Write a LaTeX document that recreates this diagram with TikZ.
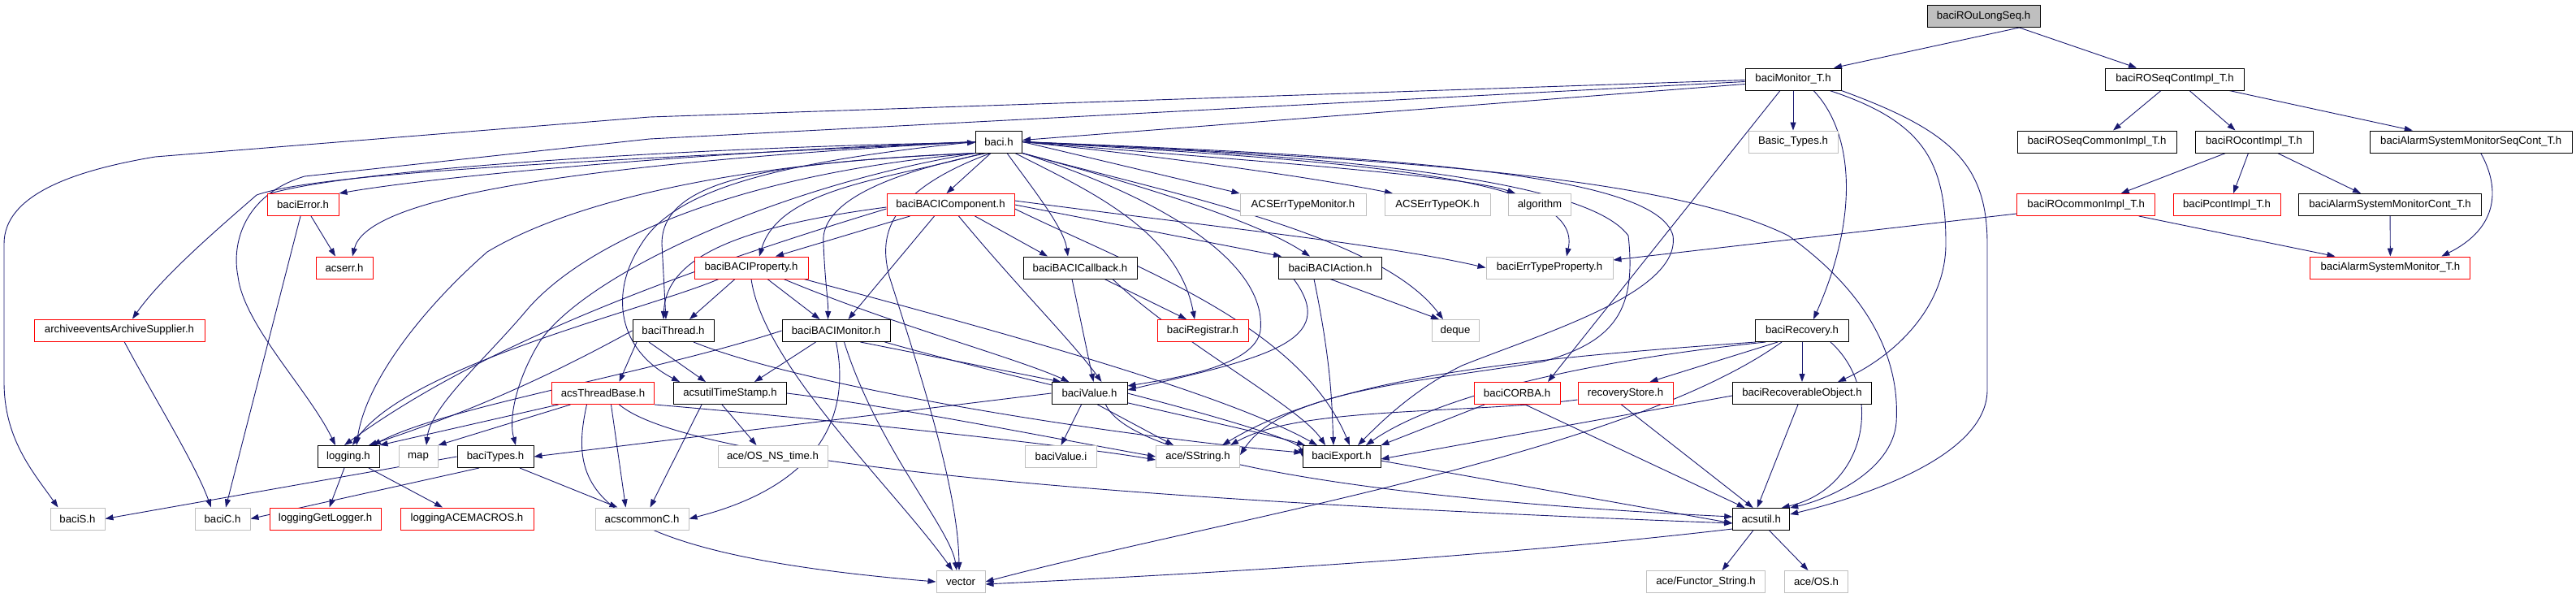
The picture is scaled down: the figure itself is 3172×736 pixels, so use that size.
\documentclass[tikz,border=0pt]{standalone}
\usepackage{fontspec}
\setmainfont{Liberation Sans}
\usetikzlibrary{arrows.meta}
\definecolor{edgec}{HTML}{191970}
\definecolor{extc}{HTML}{BFBFBF}
\pgfdeclarelayer{edgelayer}
\pgfsetlayers{edgelayer,main}
\tikzset{
  box/.style={rectangle, minimum height=27pt, inner sep=0pt, line width=1pt, fill=white, font=\fontsize{13.2}{15}\selectfont, text=black},
  doc/.style={box, draw=black},
  trunc/.style={box, draw=red},
  ext/.style={box, draw=extc},
  rootbox/.style={box, draw=black, fill=extc},
  dep/.style={draw=edgec, line width=0.9pt, -{Triangle[length=10pt,width=7pt]}},
}
\begin{document}
\begin{tikzpicture}[x=1pt,y=-1pt]
\useasboundingbox (0,0) rectangle (3172,736);
% nodes
\node[rootbox, minimum width=139] (root) at (2442.5,20) {baciROuLongSeq.h};
\node[doc, minimum width=118] (mon) at (2208,97.5) {baciMonitor\_T.h};
\node[doc, minimum width=171] (seqc) at (2678,97.5) {baciROSeqContImpl\_T.h};
\node[doc, minimum width=57] (baci) at (1230,174.5) {baci.h};
\node[ext, minimum width=110] (btypes) at (2208,174.5) {Basic\_Types.h};
\node[doc, minimum width=196] (seqcom) at (2582,174.5) {baciROSeqCommonImpl\_T.h};
\node[doc, minimum width=145] (rocont) at (2775.5,174.5) {baciROcontImpl\_T.h};
\node[doc, minimum width=249] (asmsc) at (3042.7,174.5) {baciAlarmSystemMonitorSeqCont\_T.h};
\node[trunc, minimum width=88] (err) at (373,252) {baciError.h};
\node[trunc, minimum width=157] (comp) at (1170.5,252) {baciBACIComponent.h};
\node[ext, minimum width=155] (aetm) at (1604.5,252) {ACSErrTypeMonitor.h};
\node[ext, minimum width=130] (aeok) at (1770,252) {ACSErrTypeOK.h};
\node[ext, minimum width=77] (algo) at (1896,252) {algorithm};
\node[trunc, minimum width=170] (rocom) at (2568.7,252) {baciROcommonImpl\_T.h};
\node[trunc, minimum width=132] (pcont) at (2742,252) {baciPcontImpl\_T.h};
\node[doc, minimum width=225] (asmc) at (2943,252) {baciAlarmSystemMonitorCont\_T.h};
\node[trunc, minimum width=70] (acserr) at (424,329.5) {acserr.h};
\node[trunc, minimum width=140] (prop) at (925,329.5) {baciBACIProperty.h};
\node[doc, minimum width=140] (cb) at (1330,329.5) {baciBACICallback.h};
\node[doc, minimum width=127] (act) at (1638,329.5) {baciBACIAction.h};
\node[ext, minimum width=156] (etp) at (1908,329.5) {baciErrTypeProperty.h};
\node[trunc, minimum width=197] (asm) at (2943.4,329.5) {baciAlarmSystemMonitor\_T.h};
\node[trunc, minimum width=210] (arch) at (147,406.5) {archiveeventsArchiveSupplier.h};
\node[doc, minimum width=100] (thr) at (829,407) {baciThread.h};
\node[doc, minimum width=133] (bmon) at (1029.5,407) {baciBACIMonitor.h};
\node[trunc, minimum width=112] (reg) at (1481,407) {baciRegistrar.h};
\node[ext, minimum width=58] (deque) at (1792,407) {deque};
\node[doc, minimum width=115] (rec) at (2219,407) {baciRecovery.h};
\node[trunc, minimum width=126] (atb) at (742.5,484) {acsThreadBase.h};
\node[doc, minimum width=139] (ts) at (899,484) {acsutilTimeStamp.h};
\node[doc, minimum width=93] (val) at (1341.5,484) {baciValue.h};
\node[trunc, minimum width=106] (corba) at (1868,484) {baciCORBA.h};
\node[trunc, minimum width=117] (rstore) at (2001.5,484) {recoveryStore.h};
\node[doc, minimum width=171] (robj) at (2219,484) {baciRecoverableObject.h};
\node[doc, minimum width=76] (log) at (429,562) {logging.h};
\node[ext, minimum width=48] (map) at (515,562) {map};
\node[doc, minimum width=94] (types) at (610,562) {baciTypes.h};
\node[ext, minimum width=135] (osns) at (951.5,562) {ace/OS\_NS\_time.h};
\node[ext, minimum width=88] (vali) at (1306.5,562) {baciValue.i};
\node[ext, minimum width=103] (sstr) at (1475,562) {ace/SString.h};
\node[doc, minimum width=96] (exp) at (1652,562) {baciExport.h};
\node[ext, minimum width=67] (bS) at (95.5,638.5) {baciS.h};
\node[ext, minimum width=68] (bC) at (274,638.5) {baciC.h};
\node[trunc, minimum width=137] (lgl) at (400.5,638.5) {loggingGetLogger.h};
\node[trunc, minimum width=164] (lam) at (575,638.5) {loggingACEMACROS.h};
\node[ext, minimum width=115] (acsc) at (790.5,638.5) {acscommonC.h};
\node[doc, minimum width=70] (util) at (2168.7,639) {acsutil.h};
\node[ext, minimum width=60] (vec) at (1183,716) {vector};
\node[ext, minimum width=146] (fstr) at (2100.5,716) {ace/Functor\_String.h};
\node[ext, minimum width=78] (os) at (2236.5,716) {ace/OS.h};
\begin{pgfonlayer}{edgelayer}
% right cluster
\draw[dep] ([xshift=44]root.south) -- ([xshift=50]mon.north);
\draw[dep] ([xshift=44]root.south) -- ([xshift=-47]seqc.north);
\draw[dep] ([xshift=-17]seqc.south) -- ([xshift=20]seqcom.north);
\draw[dep] ([xshift=18]seqc.south) -- ([xshift=-23]rocont.north);
\draw[dep] ([xshift=67]seqc.south) -- ([xshift=-72]asmsc.north);
\draw[dep] ([xshift=-35]rocont.south) -- ([xshift=43]rocom.north);
\draw[dep] ([xshift=-7]rocont.south) -- ([xshift=8]pcont.north);
\draw[dep] ([xshift=29]rocont.south) -- ([xshift=-36]asmc.north);
\draw[dep] ([xshift=65]rocom.south) -- ([xshift=-68]asm.north);
\draw[dep] ([yshift=-11]rocom.west) -- ([yshift=9.5]etp.east);
\draw[dep] (asmc) -- (asm);
\draw[dep] ([xshift=12]asmsc.south) .. controls (3078,230) and (3078,280) .. ([xshift=63]asm.north);
% baciMonitor_T.h
\draw[dep] (mon) -- (btypes);
\draw[dep] ([yshift=-1]mon.west) -- (800,144) -- (191,193) .. controls (90,210) and (5,240) .. (5,300) -- (5,470) .. controls (5,540) and (40,580) .. ([xshift=-24]bS.north);
\draw[dep] ([yshift=-3]mon.west) -- (800,171) -- (375,217) .. controls (300,240) and (285,300) .. (293,340) .. controls (300,400) and (380,480) .. ([xshift=-16]log.north);
\draw[dep] ([yshift=-6]mon.west) -- (1600,146) -- ([yshift=2]baci.east);
\draw[dep] ([xshift=25]mon.south) .. controls (2280,160) and (2292,260) .. ([xshift=14]rec.north);
\draw[dep] ([xshift=45]mon.south) .. controls (2370,150) and (2396,200) .. (2396,300) .. controls (2396,380) and (2330,440) .. ([xshift=44]robj.north);
\draw[dep] (mon.south east) .. controls (2400,160) and (2447,200) .. (2447,300) -- (2447,480) .. controls (2447,560) and (2300,610) .. ([yshift=6]util.east);
\draw[dep] ([xshift=-16]mon.south) -- ([xshift=38]corba.north);
% baci.h
\draw[dep] ([xshift=-10]baci.south) -- ([xshift=-5]comp.north);
\draw[dep] (baci.west) .. controls (900,185) and (550,215) .. (err.north east);
\draw[dep] ([xshift=-40]err.north) .. controls (450,205) and (900,180) .. ([yshift=-1]baci.west);
\draw[dep] (baci.west) .. controls (650,205) and (450,250) .. ([xshift=10]acserr.north);
\draw[dep] (baci.west) .. controls (800,195) and (400,210) .. (316,240) .. controls (270,280) and (200,340) .. ([xshift=16]arch.north);
\draw[dep] (baci.south west) .. controls (900,200) and (700,250) .. (600,310) .. controls (520,380) and (450,470) .. ([xshift=10]log.north);
\draw[dep] (baci.south west) .. controls (900,215) and (720,300) .. (650,380) .. controls (600,440) and (530,500) .. ([xshift=10]map.north);
\draw[dep] (baci.south west) .. controls (950,230) and (720,340) .. (665,420) .. controls (640,460) and (625,510) .. ([xshift=25]types.north);
\draw[dep] (baci.south west) .. controls (950,200) and (815,220) .. (815,300) -- ([xshift=-9]thr.north);
\draw[dep] (baci.west) .. controls (950,200) and (830,235) .. (790,300) .. controls (750,360) and (760,430) .. ([xshift=-62]ts.north);
\draw[dep] ([xshift=-20]baci.south) .. controls (1100,220) and (960,230) .. ([xshift=10]prop.north);
\draw[dep] ([xshift=-15]baci.south) .. controls (1060,220) and (1010,260) .. (1014,300) .. controls (1016,350) and (1020,370) .. ([xshift=-10]bmon.north);
\draw[dep] ([xshift=-10]baci.south) .. controls (1080,240) and (1085,300) .. (1095,340) .. controls (1130,450) and (1180,600) .. ([xshift=-2]vec.north);
\draw[dep] ([xshift=10]baci.south) .. controls (1270,230) and (1310,280) .. ([xshift=-15]cb.north);
\draw[dep] ([xshift=20]baci.south) .. controls (1330,230) and (1450,280) .. ([xshift=-10]reg.north);
\draw[dep] (baci.south east) .. controls (1450,250) and (1560,330) .. (1552,407) .. controls (1545,450) and (1450,465) .. ([yshift=9]val.east);
\draw[dep] (baci.south east) .. controls (1450,240) and (1560,280) .. ([xshift=-25]act.north);
\draw[dep] (baci.east) -- (aetm.north west);
\draw[dep] (baci.east) .. controls (1500,200) and (1650,225) .. ([xshift=-55]aeok.north);
\draw[dep] (baci.east) .. controls (1500,195) and (1800,215) .. ([xshift=-30]algo.north);
\draw[dep] (baci.east) .. controls (1700,200) and (1950,220) .. ([xshift=21]etp.north);
\draw[dep] (baci.south east) .. controls (1450,240) and (1700,290) .. ([xshift=-15]deque.north);
\draw[dep] (baci.east) .. controls (1600,190) and (1950,215) .. (2005,290) .. controls (2015,380) and (1990,420) .. (1900,445) .. controls (1750,470) and (1580,480) .. ([yshift=2]sstr.east);
\draw[dep] (baci.east) .. controls (1700,192) and (2040,212) .. (2060,290) .. controls (2070,360) and (1900,410) .. (1800,450) .. controls (1740,480) and (1700,520) .. ([xshift=20]exp.north);
\draw[dep] (baci.east) .. controls (1700,195) and (2050,215) .. (2202,290) .. controls (2300,360) and (2340,440) .. (2335,520) .. controls (2330,580) and (2250,615) .. (util.north east);
% baciError, archive
\draw[dep] ([xshift=10]err.south) -- ([xshift=-11]acserr.north);
\draw[dep] ([xshift=-3]err.south) -- ([xshift=4]bC.north);
\draw[dep] ([xshift=6]arch.south) .. controls (190,490) and (240,570) .. ([xshift=-14]bC.north);
% component
\draw[dep] ([yshift=-5]comp.west) .. controls (850,330) and (600,420) .. ([xshift=-5]log.north);
\draw[dep] ([yshift=-3]comp.west) .. controls (900,280) and (820,320) .. ([xshift=-12]thr.north);
\draw[dep] ([xshift=-50]comp.south) -- ([xshift=30]prop.north);
\draw[dep] ([xshift=-20]comp.south) -- ([xshift=15]bmon.north);
\draw[dep] ([xshift=10]comp.south) .. controls (1250,350) and (1320,420) .. ([xshift=15]val.north);
\draw[dep] ([xshift=30]comp.south) -- ([xshift=-40]cb.north);
\draw[dep] (comp.east) -- ([xshift=-60]act.north);
\draw[dep] ([yshift=5]comp.east) .. controls (1500,280) and (1700,300) .. (etp.west);
\draw[dep] ([yshift=-5]comp.east) .. controls (1400,330) and (1600,400) .. ([xshift=10]exp.north);
% property
\draw[dep] ([xshift=-40]prop.south) .. controls (800,380) and (500,450) .. ([xshift=5]log.north);
\draw[dep] ([xshift=-20]prop.south) -- ([xshift=20]thr.north);
\draw[dep] ([xshift=0]prop.south) .. controls (940,450) and (1100,600) .. ([xshift=-10]vec.north);
\draw[dep] ([xshift=20]prop.south) -- ([xshift=-20]bmon.north);
\draw[dep] ([xshift=40]prop.south) .. controls (1100,400) and (1250,440) .. ([xshift=-25]val.north);
\draw[dep] ([xshift=65]prop.south) .. controls (1200,400) and (1500,480) .. ([xshift=-30]exp.north);
% thread
\draw[dep] ([xshift=-30]thr.south) -- ([xshift=-30]ts.north);
\draw[dep] (thr.west) .. controls (700,450) and (600,500) .. ([xshift=25]log.north);
\draw[dep] ([xshift=-45]thr.south) -- ([xshift=20]atb.north);
\draw[dep] ([xshift=25]thr.south) .. controls (1000,480) and (1400,540) .. ([yshift=5]exp.west);
% BACI monitor
\draw[dep] (bmon.west) .. controls (800,460) and (550,500) .. ([xshift=30]log.north);
\draw[dep] ([xshift=-25]bmon.south) -- ([xshift=30]ts.north);
\draw[dep] ([xshift=0]bmon.south) .. controls (1050,520) and (1000,600) .. (acsc.east);
\draw[dep] ([xshift=10]bmon.south) .. controls (1080,550) and (1170,650) .. ([xshift=-5]vec.north);
\draw[dep] ([xshift=30]bmon.south) -- ([xshift=-35]val.north);
\draw[dep] ([xshift=60]bmon.south) .. controls (1300,480) and (1550,530) .. ([xshift=-45]exp.north);
% callback, action, registrar
\draw[dep] ([xshift=-10]cb.south) -- ([xshift=5]val.north);
\draw[dep] ([xshift=30]cb.south) -- ([xshift=-20]reg.north);
\draw[dep] ([xshift=40]cb.south) .. controls (1450,420) and (1600,500) .. ([xshift=-20]exp.north);
\draw[dep] ([xshift=-45]act.south) .. controls (1650,420) and (1560,440) .. ([yshift=4]val.east);
\draw[dep] ([xshift=-20]act.south) .. controls (1640,450) and (1640,500) .. ([xshift=-10]exp.north);
\draw[dep] ([xshift=0]act.south) -- ([xshift=-20]deque.north);
% time stamp, thread base
\draw[dep] ([xshift=-35]ts.south) -- ([xshift=10]acsc.north);
\draw[dep] ([xshift=-10]ts.south) -- ([xshift=-20]osns.north);
\draw[dep] (ts.east) .. controls (1100,500) and (1300,540) .. (sstr.west);
\draw[dep] ([xshift=-55]atb.south) -- (log.north east);
\draw[dep] ([xshift=-40]atb.south) -- (map.north east);
\draw[dep] ([xshift=10]atb.south) -- ([xshift=-20]acsc.north);
\draw[dep] ([xshift=-20]atb.south) .. controls (700,600) and (720,680) .. (vec.west);
\draw[dep] ([xshift=20]atb.south) .. controls (860,580) and (1500,620) .. ([yshift=-5]util.west);
\draw[dep] (atb.south east) .. controls (950,510) and (1300,545) .. ([yshift=-4]sstr.west);
% value
\draw[dep] (val.west) -- (types.east);
\draw[dep] ([xshift=-10]val.south) -- (vali.north);
\draw[dep] ([xshift=10]val.south) -- ([xshift=-30]sstr.north);
\draw[dep] ([xshift=20]val.south) .. controls (1400,580) and (1800,620) .. ([yshift=3]util.west);
\draw[dep] (val.east) .. controls (1450,500) and (1600,540) .. (exp.west);
% types, logging
\draw[dep] (types.west) -- (bS.east);
\draw[dep] ([xshift=-20]types.south) -- (bC.east);
\draw[dep] ([xshift=30]types.south) -- ([xshift=-30]acsc.north);
\draw[dep] ([xshift=-5]log.south) -- ([xshift=5]lgl.north);
\draw[dep] ([xshift=25]log.south) -- ([xshift=-30]lam.north);
% recovery etc
\draw[dep] ([xshift=-57]rec.south) .. controls (1900,440) and (1650,460) .. ([xshift=30]sstr.north);
\draw[dep] ([xshift=-45]rec.south) .. controls (1900,450) and (1750,500) .. ([xshift=30]exp.north);
\draw[dep] ([xshift=-25]rec.south) .. controls (2000,560) and (1500,640) .. (vec.east);
\draw[dep] ([xshift=-30]rec.south) -- ([xshift=30]rstore.north);
\draw[dep] (rec) -- (robj);
\draw[dep] ([xshift=35]rec.south) .. controls (2320,480) and (2300,600) .. ([xshift=25]util.north);
\draw[dep] ([xshift=-40]corba.south) -- (exp.north east);
\draw[dep] ([xshift=10]corba.south) -- ([xshift=-20]util.north);
\draw[dep] ([yshift=-8]rstore.west) .. controls (1800,510) and (1600,500) .. ([xshift=40]sstr.north);
\draw[dep] ([xshift=-5]rstore.south) -- ([xshift=-10]util.north);
\draw[dep] ([yshift=-3]robj.west) -- ([yshift=-3]exp.east);
\draw[dep] ([xshift=-5]robj.south) -- ([xshift=-5]util.north);
\draw[dep] ([yshift=-5]exp.east) -- ([yshift=-5]util.west);
\draw[dep] ([yshift=-12]util.west) .. controls (1800,690) and (1400,710) .. ([yshift=-3]vec.east);
\draw[dep] ([xshift=-10]util.south) -- ([xshift=20]fstr.north);
\draw[dep] ([xshift=10]util.south) -- ([xshift=-10]os.north);
\end{pgfonlayer}
\end{tikzpicture}
\end{document}
